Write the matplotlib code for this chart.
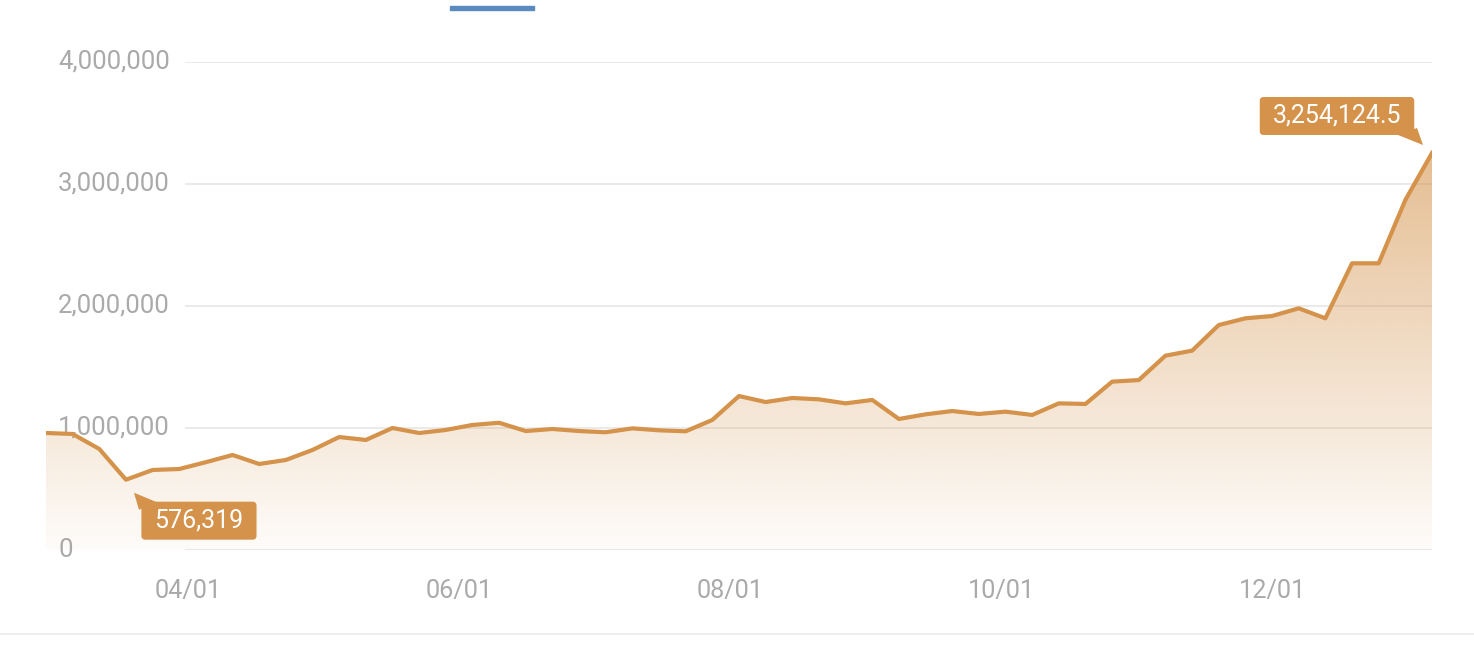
import numpy as np
import pandas as pd
import matplotlib
matplotlib.use("Agg")
import matplotlib.pyplot as plt
import matplotlib.dates as mdates
from matplotlib.colors import to_rgb
from matplotlib.patches import FancyBboxPatch, Polygon
from matplotlib.transforms import IdentityTransform

plt.rcParams['font.family'] = ['Roboto', 'DejaVu Sans']

# data: one reading every 6 days
start_date = "2023-02-28"
values = [959000, 951000, 828000, 576319, 656000, 664000, 720000, 779000,
          705000, 738000, 820000, 926000, 902000, 1000000, 959000, 984000,
          1025000, 1043000, 975000, 992000, 975000, 965000, 997000, 981000,
          973000, 1066000, 1262000, 1213000, 1246000, 1235000, 1202000, 1230000,
          1074000, 1112000, 1139000, 1115000, 1134000, 1107000, 1202000, 1197000,
          1380000, 1393000, 1593000, 1634000, 1844000, 1899000, 1918000, 1981000,
          1899000, 2350000, 2350000, 2869000, 3254124.5]
dates = pd.date_range(start_date, periods=len(values), freq="6D")
y_ticks = [0, 1000000, 2000000, 3000000, 4000000]
y_labels = ["0", "1,000,000", "2,000,000", "3,000,000", "4,000,000"]
min_label = "576,319"
max_label = "3,254,124.5"

orange = "#d4924a"
grey_txt = "#aaaaaa"
grid_c = "#e8e8e8"

x = mdates.date2num(dates.to_pydatetime())
y = np.array(values)

fig = plt.figure(figsize=(14.74, 6.5), dpi=100)
ax = fig.add_axes([46/1474, 100/650, 1386/1474, 488/650])
ax.set_xlim(x[0], x[-1])
ax.set_ylim(0, 4000000)

# grid lines start right of the labels
ax.hlines(y_ticks, 0.1003, 1, transform=ax.get_yaxis_transform(),
          colors=grid_c, lw=1.3, zorder=1)

# gradient fill under the line
rgb = to_rgb(orange)
n = 256
grad = np.zeros((n, 1, 4))
grad[:, 0, :3] = rgb
grad[:, 0, 3] = np.linspace(0.6, 0.03, n)
poly = ax.fill_between(x, y, 0, facecolor="none", edgecolor="none")
img = ax.imshow(grad, extent=[x[0], x[-1], 0, y.max()], aspect="auto",
                origin="upper", zorder=2)
img.set_clip_path(poly.get_paths()[0], transform=ax.transData)

# y labels drawn inside the plot
for v, lab in zip(y_ticks, y_labels):
    ax.text(0.0087, v, lab, transform=ax.get_yaxis_transform(),
            ha="left", va="center", fontsize=18.5, color=grey_txt, zorder=1.5)

ax.plot(x, y, color=orange, lw=3, zorder=4, solid_joinstyle="round")
ax.set_xlim(x[0], x[-1])
ax.set_ylim(0, 4000000)

ax.set_yticks([])
ax.xaxis.set_major_locator(mdates.MonthLocator(bymonth=[4, 6, 8, 10, 12]))
ax.xaxis.set_major_formatter(mdates.DateFormatter("%m/%d"))
ax.tick_params(axis="x", length=0, pad=21, labelsize=18.2, labelcolor=grey_txt)
for s in ax.spines.values():
    s.set_visible(False)


def callout(i, dx, dy, tri, label):
    # box centred dx, dy pixels from the point, pointer triangle in pixels
    px, py = ax.transData.transform((x[i], y[i]))
    cx, cy = px + dx, py + dy
    t = fig.text(cx, cy, label, transform=IdentityTransform(), ha="center",
                 va="center", fontsize=18, color="white", zorder=8)
    fig.canvas.draw()
    bb = t.get_window_extent()
    w = bb.width + 26
    h = 38
    fig.add_artist(FancyBboxPatch((cx - w/2, cy - h/2), w, h,
                                  boxstyle="round,pad=0,rounding_size=4",
                                  transform=IdentityTransform(), fc=orange,
                                  ec="none", zorder=6))
    fig.add_artist(Polygon([(px + a, py + b) for a, b in tri], closed=True,
                           transform=IdentityTransform(), fc=orange,
                           ec="none", zorder=6))


i_min = int(np.argmin(y))
i_max = int(np.argmax(y))
callout(i_min, 73, -41, [(8, -13), (13, -30), (32, -23)], min_label)
callout(i_max, -95, 37, [(-9, 8), (-15, 25), (-34, 18)], max_label)

# decorations of the surrounding screen
fig.add_artist(plt.Line2D([0, 1], [1 - 634/650, 1 - 634/650],
                          transform=fig.transFigure, color="#eeeeee", lw=1.5))
fig.add_artist(plt.Rectangle((450/1474, 1 - 10/650), 84/1474, 4/650,
                             transform=fig.transFigure, color="#5b8ac0"))

fig.savefig("out.png", dpi=100)
